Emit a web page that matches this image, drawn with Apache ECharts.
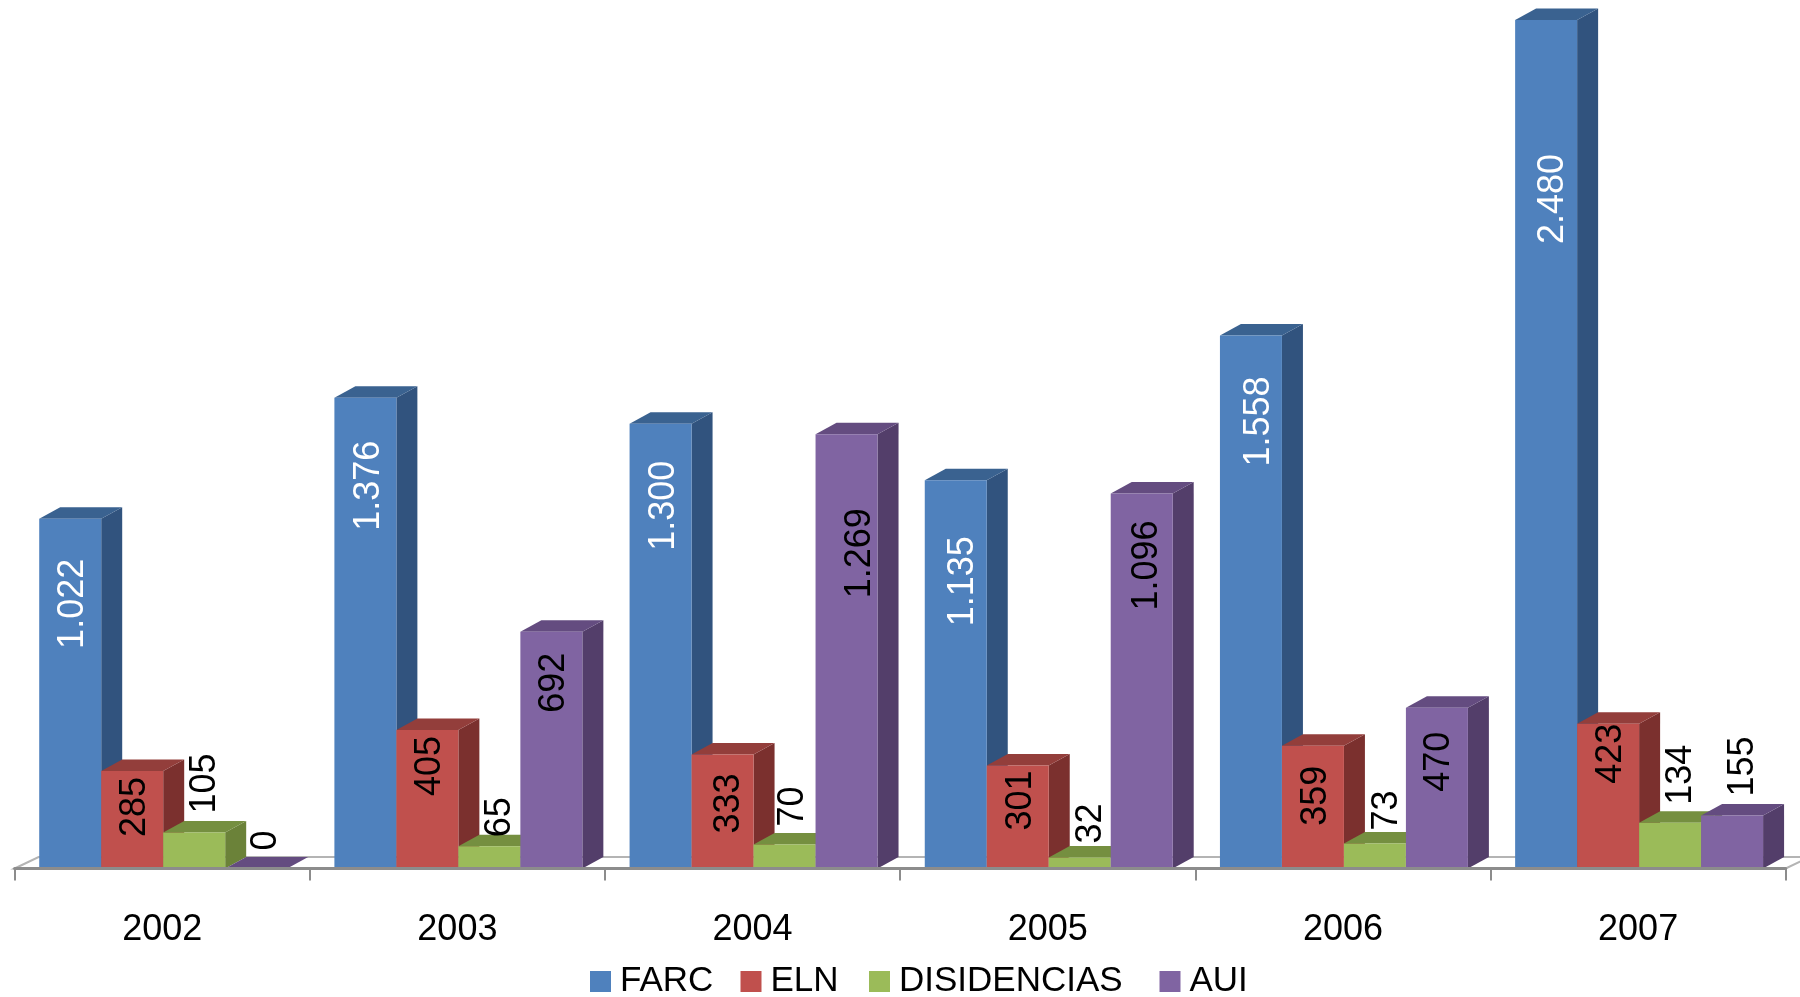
<!DOCTYPE html>
<html><head><meta charset="utf-8">
<style>html,body{margin:0;padding:0;background:#fff}#c{width:1800px;height:997px}</style>
<script src="https://cdn.jsdelivr.net/npm/echarts@6/dist/echarts.min.js"></script>
</head><body><div id="c"></div>
<script>
const years = ['2002','2003','2004','2005','2006','2007'];
const seriesNames = ['FARC','ELN','DISIDENCIAS','AUI'];
const FARC = [1022,1376,1300,1135,1558,2480];
const ELN = [285,405,333,301,359,423];
const DISIDENCIAS = [105,65,70,32,73,134];
const AUI = [0,692,1269,1096,470,155];
const labelsFARC = ['1.022','1.376','1.300','1.135','1.558','2.480'];
const labelsELN = ['285','405','333','301','359','423'];
const labelsDIS = ['105','65','70','32','73','134'];
const labelsAUI = ['0','692','1.269','1.096','470','155'];

// hand-placed label offsets from the top of each bar / centre of each bar, px
const offY = [[85,88,82,101,86,179],[36,36,49,35,50,30],[-49,-29,-38,-34,-33,-48],[-28,51,119,72,54,-49]];
const offX = [[0,1,1,5,6,5],[0,0,4,1,1,1],[8,8,6,9,10,9],[8,0,11,3,0,9]];
const legendLefts = [590,740.5,869,1159.5];
const palette = [
  {front:'#4F81BD',side:'#31537E',top:'#3A6290',text:'#fff'},
  {front:'#C0504D',side:'#7B302E',top:'#933E3B',text:'#000'},
  {front:'#9BBB59',side:'#6B8239',top:'#758F40',text:'#000'},
  {front:'#8064A2',side:'#533E6A',top:'#644C80',text:'#000'}
];
const FONT = '"Liberation Sans", Arial, sans-serif';
const depthX = 21, depthY = 11.5, fill = 0.21, shiftX = 1, labelShiftX = 3.4;

function makeSeries(name, idx, values, labels){
  const p = palette[idx];
  return {
    name, type:'custom', coordinateSystem:'cartesian2d', z:3,
    itemStyle:{color:p.front},
    encode:{x:0,y:1},
    data: values.map((v,i)=>[i,v,labels[i]]),
    renderItem(params, api){
      const cat = api.value(0), val = api.value(1);
      const top = api.coord([cat,val]), base = api.coord([cat,0]);
      const w = api.size([1,0])[0]*fill;
      const x0 = top[0] + (idx-2)*w + shiftX, x1 = x0 + w;
      const yt = top[1], yb = base[1];
      const ch = [
        {type:'polygon',shape:{points:[[x1,yt],[x1+depthX,yt-depthY],[x1+depthX,yb-depthY],[x1,yb]]},style:{fill:p.side}},
        {type:'polygon',shape:{points:[[x0,yt],[x0+depthX,yt-depthY],[x1+depthX,yt-depthY],[x1,yt]]},style:{fill:p.top}},
        {type:'rect',shape:{x:x0,y:yt,width:w,height:yb-yt},style:{fill:p.front}}
      ];
      return {type:'group',children:ch};
    }
  };
}
// labels go on top of every bar, in a separate pass
function labelSeries(idx, values, labels){
  const p = palette[idx];
  return {
    type:'custom', coordinateSystem:'cartesian2d', z:5, silent:true,
    encode:{x:0,y:1},
    data: values.map((v,i)=>[i,v]),
    renderItem(params, api){
      const cat = api.value(0), val = api.value(1);
      const top = api.coord([cat,val]);
      const w = api.size([1,0])[0]*fill;
      const cx = top[0] + (idx-2)*w + w/2 + offX[idx][cat] + labelShiftX;
      return {type:'text', x:cx, y:top[1]+offY[idx][cat], rotation:Math.PI/2,
        style:{x:0,y:0,text:labels[cat],align:'center',verticalAlign:'middle',
          font:'36px '+FONT, fill:p.text}};
    }
  };
}
const floor = {
  type:'custom', coordinateSystem:'cartesian2d', z:1, silent:true,
  encode:{x:0,y:1}, data:[[0,0]],
  renderItem(params, api){
    const c = params.coordSys, b = c.y + c.height;
    return {type:'group',children:[
      {type:'polygon',shape:{points:[[c.x,b],[c.x+depthX+3,b-depthY],[c.x+c.width+depthX+3,b-depthY],[c.x+c.width,b]]},
       style:{fill:'#fff',stroke:'#B4B4B4',lineWidth:2}}
    ]};
  }
};
const chart = echarts.init(document.getElementById('c'),null,{renderer:'canvas'});
chart.setOption({
  animation:false,
  backgroundColor:'#fff',
  grid:{left:14.6,right:14.3,top:20,bottom:128.5},
  xAxis:{type:'category',data:years,boundaryGap:true,z:4,offset:1,
    axisLine:{show:true,lineStyle:{color:'#8C8C8C',width:3}},
    axisTick:{show:true,length:12,alignWithLabel:false,lineStyle:{color:'#8C8C8C',width:2}},
    axisLabel:{color:'#000',fontFamily:FONT,fontSize:36,margin:43,interval:0}},
  yAxis:{type:'value',min:0,max:2480,show:false},
  legend:seriesNames.map((n,i)=>({data:[n],left:legendLefts[i],top:964,icon:'rect',itemWidth:21,itemHeight:21,
    itemStyle:{borderWidth:0},
    textStyle:{color:'#000',fontFamily:FONT,fontSize:35,padding:[2,0,0,4]},selectedMode:false,padding:0})),
  series:[floor,
    makeSeries('FARC',0,FARC,labelsFARC),
    makeSeries('ELN',1,ELN,labelsELN),
    makeSeries('DISIDENCIAS',2,DISIDENCIAS,labelsDIS),
    makeSeries('AUI',3,AUI,labelsAUI),
    labelSeries(0,FARC,labelsFARC),
    labelSeries(1,ELN,labelsELN),
    labelSeries(2,DISIDENCIAS,labelsDIS),
    labelSeries(3,AUI,labelsAUI)
  ]
});
</script></body></html>
